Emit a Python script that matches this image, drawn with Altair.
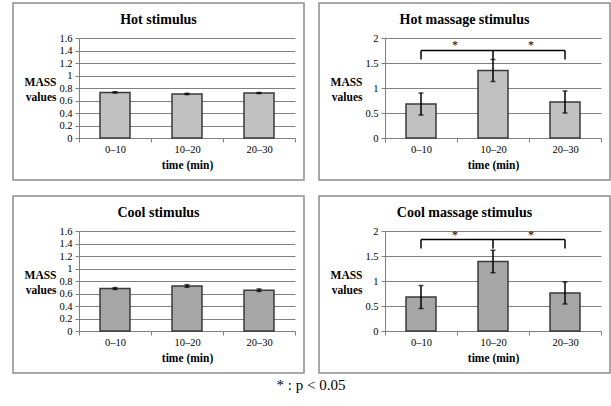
import altair as alt
import pandas as pd

periods = ["0–10", "10–20", "20–30"]

hot_mean = [0.73, 0.705, 0.72]
hot_err = [0.01, 0.01, 0.008]
hot_massage_mean = [0.68, 1.35, 0.72]
hot_massage_err = [0.22, 0.22, 0.22]
cool_mean = [0.68, 0.72, 0.653]
cool_err = [0.015, 0.02, 0.02]
cool_massage_mean = [0.68, 1.39, 0.76]
cool_massage_err = [0.23, 0.225, 0.22]

# significance brackets: [top, end-tick bottom, star level]
hot_massage_bracket = [1.75, 1.57, 1.86]
cool_massage_bracket = [1.83, 1.65, 1.93]

hot_ticks = [0, 0.2, 0.4, 0.6, 0.8, 1, 1.2, 1.4, 1.6]
massage_ticks = [0, 0.5, 1, 1.5, 2]

titles = ["Hot stimulus", "Hot massage stimulus", "Cool stimulus", "Cool massage stimulus"]
footnote = "* : p < 0.05"

HOT_FILL = "#c0c0c0"
COOL_FILL = "#a6a6a6"
FONT = "Liberation Serif, Times New Roman, Times, serif"
W, H = 216, 100


def panel(title, means, errs, ticks, fill, bracket=None, extra=None):
    df = pd.DataFrame({
        "period": periods,
        "mean": means,
        "lo": [m - e for m, e in zip(means, errs)],
        "hi": [m + e for m, e in zip(means, errs)],
    })
    ymax = ticks[-1]
    xscale = alt.Scale(domain=periods, paddingInner=0, paddingOuter=0)
    xaxis = alt.Axis(
        title="time (min)", labelAngle=0, tickBand="extent",
        tickSize=4, tickColor="#808080", domainColor="#808080",
        labelFont=FONT, labelFontSize=10.5, labelColor="#000",
        labelPadding=2, titleFont=FONT, titleFontSize=11.5,
        titleFontWeight="bold", titleColor="#000", titleY=27,
        titleBaseline="middle", grid=False,
    )
    yscale = alt.Scale(domain=[0, ymax], nice=False)
    yaxis = alt.Axis(
        title=["MASS", "values"], titleAngle=0, titleAlign="right",
        titleBaseline="middle", titleX=-23, titleY=H / 2 - 6,
        titleFont=FONT, titleFontSize=11.5, titleFontWeight="bold",
        titleColor="#000", titleLineHeight=15,
        values=ticks, labelOverlap=False, labelExpr="format(datum.value, '~g')",
        tickSize=4, tickColor="#808080", domainColor="#808080",
        labelFont=FONT, labelFontSize=10.5, labelColor="#000", labelPadding=3,
        grid=True, gridColor="#808080", gridWidth=1,
    )

    def X(f):
        return alt.X(f, type="nominal", scale=xscale, axis=xaxis)

    def Y(f):
        return alt.Y(f, type="quantitative", scale=yscale, axis=yaxis)

    base = alt.Chart(df)
    bars = base.mark_bar(size=30, fill=fill, stroke="#3a3a3a", strokeWidth=1.5).encode(
        x=X("period"), y=Y("mean")
    )
    err = base.mark_rule(color="#000", strokeWidth=1.5).encode(
        x=X("period"), y=Y("lo"), y2="hi"
    )
    cap_lo = base.mark_tick(color="#000", size=5, thickness=1.5).encode(x=X("period"), y=Y("lo"))
    cap_hi = base.mark_tick(color="#000", size=5, thickness=1.5).encode(x=X("period"), y=Y("hi"))
    deco = alt.Chart(pd.DataFrame({"t": [title]}))
    border = deco.mark_rect(
        fill=None, stroke="#8c8c8c", strokeWidth=1.5, clip=False
    ).encode(x=alt.value(-66), x2=alt.value(225), y=alt.value(-35), y2=alt.value(142))
    ttl = deco.mark_text(
        font=FONT, fontSize=14, fontWeight="bold", color="#000",
        align="center", baseline="middle", clip=False,
    ).encode(x=alt.value(79.5), y=alt.value(-18), text="t:N")
    layers = [border, bars, err, cap_lo, cap_hi, ttl]
    if bracket is not None:
        top, low, star = bracket
        horiz = pd.DataFrame({"a": [periods[0], periods[1]], "b": [periods[1], periods[2]], "y": [top, top]})
        vert = pd.DataFrame({"p": periods, "y1": [low, low, low], "y2": [top, top, top]})
        stars_l = pd.DataFrame({"p": [periods[1]], "y": [star], "t": ["*"]})
        stars_r = pd.DataFrame({"p": [periods[1]], "y": [star], "t": ["*"]})
        layers.append(alt.Chart(horiz).mark_rule(color="#000", strokeWidth=1.5).encode(
            x=X("a"), x2="b", y=Y("y")))
        layers.append(alt.Chart(vert).mark_rule(color="#000", strokeWidth=1.5).encode(
            x=X("p"), y=Y("y1"), y2="y2"))
        layers.append(alt.Chart(stars_l).mark_text(
            font=FONT, fontSize=12, dx=-38, baseline="middle", color="#000").encode(
            x=X("p"), y=Y("y"), text="t:N"))
        layers.append(alt.Chart(stars_r).mark_text(
            font=FONT, fontSize=12, dx=38, baseline="middle", color="#000").encode(
            x=X("p"), y=Y("y"), text="t:N"))
    if extra is not None:
        layers.append(extra)
    return alt.layer(*layers).properties(width=W, height=H)


foot = alt.Chart(pd.DataFrame({"t": [footnote]})).mark_text(
    font=FONT, fontSize=15, color="#000", clip=False, baseline="middle"
).encode(x=alt.value(232), y=alt.value(154), text="t:N")

p1 = panel(titles[0], hot_mean, hot_err, hot_ticks, HOT_FILL)
p2 = panel(titles[1], hot_massage_mean, hot_massage_err, massage_ticks, HOT_FILL, hot_massage_bracket)
p3 = panel(titles[2], cool_mean, cool_err, hot_ticks, COOL_FILL, extra=foot)
p4 = panel(titles[3], cool_massage_mean, cool_massage_err, massage_ticks, COOL_FILL, cool_massage_bracket)

chart = alt.concat(
    p1, p2, p3, p4, columns=2, spacing={"row": 93, "column": 90}, bounds="flush"
).resolve_scale(
    y="independent"
).properties(
    padding={"left": 12, "top": 2, "right": 0, "bottom": 0},
    background="white",
).configure_view(stroke=None)

chart.save("out.html", embed_options={"renderer": "svg", "actions": False})
